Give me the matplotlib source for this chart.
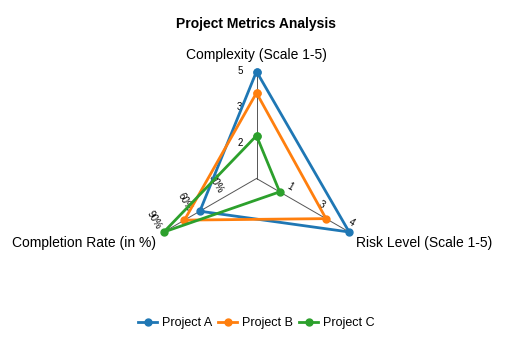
import numpy as np
import matplotlib.pyplot as plt

plt.rcParams["font.family"] = ["Liberation Sans", "DejaVu Sans"]

# ==================== data ====================
axis_names = ["Complexity (Scale 1-5)", "Risk Level (Scale 1-5)", "Completion Rate (in %)"]
axis_max = [5, 4, 90]
axis_angles_deg = [90, -30, 210]
tick_labels = [["2", "3", "5"], ["1", "3", "4"], ["30%", "60%", "90%"]]

projects = ["Project A", "Project B", "Project C"]
complexity = [5, 4, 2]
risk = [4, 3, 1]
completion = [55, 70, 90]
colors = ["#1f77b4", "#ff7f0e", "#2ca02c"]
# ==============================================

W, H = 508, 347
fig = plt.figure(figsize=(W / 100, H / 100), dpi=100)

# polar axes centred on the radar, r=1 -> axis end
R = 107
cx, cy = 256.5, 178.5
ax = fig.add_axes([(cx - R) / W, (H - cy - R) / H, 2 * R / W, 2 * R / H], projection="polar")
ax.set_ylim(0, 1)
ax.set_axis_off()

theta = np.deg2rad(axis_angles_deg)

# spokes + tick labels
rot = [0, -30, -60]
offsets = [(-12, 0), (2, 7), (-7, 9)]
for i, th in enumerate(theta):
    ax.plot([th, th], [0, 1], color="#555555", lw=0.7, zorder=1, clip_on=False)
    for k, lab in enumerate(tick_labels[i]):
        r = (k + 1) / 3
        ax.annotate(lab, (th, r), xytext=offsets[i], textcoords="offset points",
                    ha="center", va="center", fontsize=7, rotation=rot[i])

# axis titles
ax.annotate(axis_names[0], (theta[0], 1), xytext=(0, 7), textcoords="offset points",
            ha="center", va="bottom", fontsize=10)
ax.annotate(axis_names[1], (theta[1], 1), xytext=(5, -8), textcoords="offset points",
            ha="left", va="center", fontsize=10)
ax.annotate(axis_names[2], (theta[2], 1), xytext=(-6, -8), textcoords="offset points",
            ha="right", va="center", fontsize=10)

# series
for name, c, vals in zip(projects, colors, zip(complexity, risk, completion)):
    r = [v / m for v, m in zip(vals, axis_max)]
    t = list(theta) + [theta[0]]
    r = r + [r[0]]
    ax.plot(t, r, color=c, lw=2, marker="o", markersize=5, label=name, zorder=3,
            clip_on=False)

fig.text(cx / W, 1 - 24 / H, "Project Metrics Analysis", ha="center", va="center",
         fontsize=10, fontweight="bold")

handles, labels = ax.get_legend_handles_labels()
fig.legend(handles, labels, loc="center", bbox_to_anchor=(cx / W, 1 - 323 / H), ncol=3,
           frameon=False, fontsize=9, handlelength=1.5, handletextpad=0.4,
           columnspacing=0.5)

fig.savefig("out.png", dpi=100)
